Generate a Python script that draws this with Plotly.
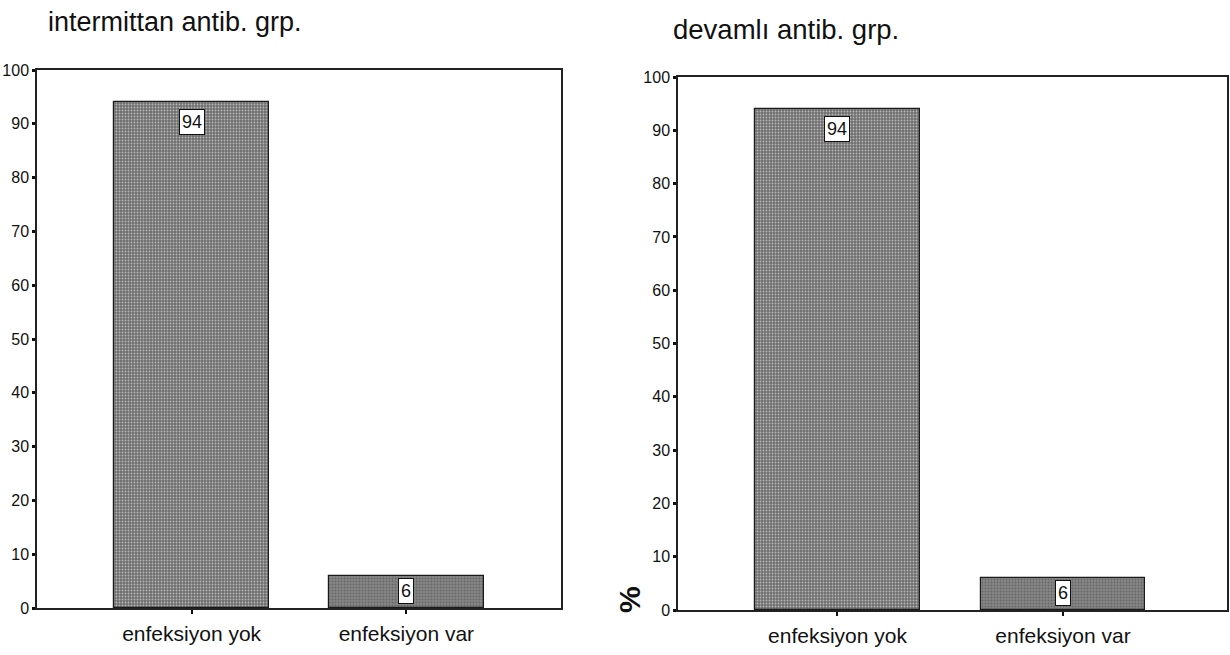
import plotly.graph_objects as go

categories = ["enfeksiyon yok", "enfeksiyon var"]
left_values = [94, 6]
right_values = [94, 6]
left_title = "intermittan antib. grp."
right_title = "devamlı antib. grp."
y_ticks = [0, 10, 20, 30, 40, 50, 60, 70, 80, 90, 100]
y_label = "%"

W, H = 1230, 655
FONT = "Liberation Sans, Arial, sans-serif"

def px_x(p):
    return p / W

def px_y(p):
    return (H - p) / H

fig = go.Figure()

bar_colors = ["#6e6e6e", "#868686"]

for vals, xa, ya, width in [(left_values, "x", "y", 0.72), (right_values, "x2", "y2", 0.73)]:
    fig.add_trace(go.Bar(
        x=categories, y=vals, xaxis=xa, yaxis=ya, width=width,
        marker=dict(color=bar_colors, line=dict(color="#1a1a1a", width=1.2),
                    pattern=dict(shape=".", fillmode="overlay", bgcolor=bar_colors,
                                 fgcolor="#4e4e4e", size=3, solidity=0.3)),
        hoverinfo="skip", showlegend=False,
    ))
    for c, v in zip(categories, vals):
        fig.add_annotation(x=c, y=v, xref=xa, yref=ya, text=str(v), showarrow=False,
                           yanchor="top", yshift=-7 if v > 50 else -2,
                           font=dict(family=FONT, size=18, color="#111"),
                           bgcolor="white", bordercolor="#111", borderwidth=1, borderpad=2)

axis_common = dict(showgrid=False, zeroline=False, showline=True, linecolor="#222",
                   linewidth=1.5, mirror=True, ticks="outside", tickcolor="#111",
                   automargin=False)

fig.update_layout(
    template="none",
    width=W, height=H, margin=dict(l=0, r=0, t=0, b=0),
    paper_bgcolor="white", plot_bgcolor="white",
    font=dict(family=FONT, color="#111"),
    bargap=0,
    xaxis=dict(domain=[px_x(37), px_x(561)], type="category", range=[-0.72, 1.72],
               ticklen=4, tickwidth=2, ticklabelstandoff=2,
               tickfont=dict(size=21, family=FONT), **axis_common),
    yaxis=dict(domain=[px_y(608), px_y(70)], range=[0, 100], tickvals=y_ticks,
               ticklen=3, tickwidth=3, ticklabelstandoff=0,
               tickfont=dict(size=16, family=FONT), **axis_common),
    xaxis2=dict(domain=[px_x(678), px_x(1227)], type="category", range=[-0.707, 1.727],
                anchor="y2", ticklen=4, tickwidth=2, ticklabelstandoff=2,
                tickfont=dict(size=21, family=FONT), **axis_common),
    yaxis2=dict(domain=[px_y(610), px_y(77)], range=[0, 100], tickvals=y_ticks, anchor="x2",
                ticklen=3, tickwidth=3, ticklabelstandoff=0,
                tickfont=dict(size=16, family=FONT), **axis_common),
)

fig.add_annotation(text=left_title, xref="paper", yref="paper", x=px_x(46), y=px_y(22),
                   xanchor="left", yanchor="middle", showarrow=False,
                   font=dict(family=FONT, size=27, color="#111"))
fig.add_annotation(text=right_title, xref="paper", yref="paper", x=px_x(671), y=px_y(29),
                   xanchor="left", yanchor="middle", showarrow=False,
                   font=dict(family=FONT, size=27.5, color="#111"))
fig.add_annotation(text="<b>" + y_label + "</b>", xref="paper", yref="paper", x=px_x(629), y=px_y(600),
                   xanchor="center", yanchor="middle", showarrow=False, textangle=-90,
                   font=dict(family=FONT, size=30, color="#111"))

fig.write_html("out.html")
